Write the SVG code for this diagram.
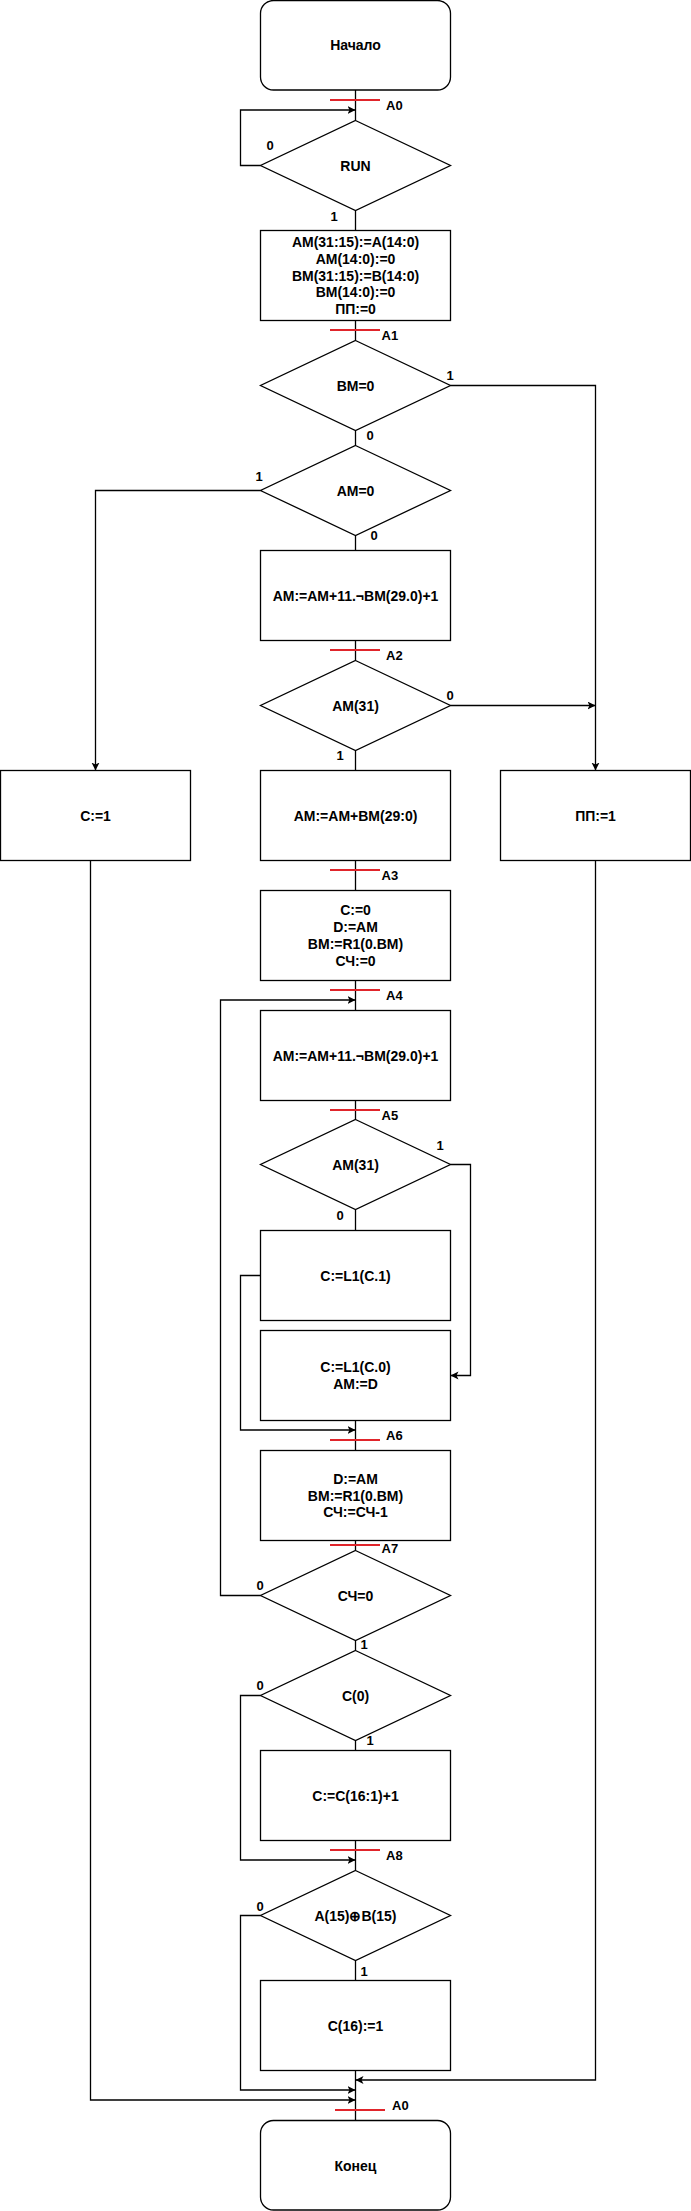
<svg xmlns="http://www.w3.org/2000/svg" width="691" height="2211" viewBox="0 0 691 2211">
<defs>
<style>
.s{fill:#fff;stroke:#000;stroke-width:1.3}
.t{font-family:"Liberation Sans",Arial,sans-serif;font-size:14px;font-weight:bold;fill:#000;text-anchor:middle}
.l{font-family:"Liberation Sans",Arial,sans-serif;font-size:13px;font-weight:bold;fill:#000}
.c{fill:none;stroke:#000;stroke-width:1.3}
.r{stroke:#e0252b;stroke-width:2}
</style>
<marker id="arr" markerWidth="10" markerHeight="10" refX="8" refY="4" orient="auto" markerUnits="userSpaceOnUse"><path d="M0,0 L8,4 L0,8 L2,4 Z" fill="#000"/></marker>
</defs>
<rect width="691" height="2211" fill="#fff"/>
<g id="connectors">
<path class="c" d="M355.5,90 V120.5"/>
<path class="c" d="M260.5,165.5 H240.5 V110 H355.5" marker-end="url(#arr)"/>
<path class="c" d="M355.5,210.5 V230.5"/>
<path class="c" d="M355.5,320.5 V340.5"/>
<path class="c" d="M450.5,385.5 H595.5 V770.5" marker-end="url(#arr)"/>
<path class="c" d="M355.5,430.5 V445.5"/>
<path class="c" d="M260.5,490.5 H95.5 V770.5" marker-end="url(#arr)"/>
<path class="c" d="M355.5,535.5 V550.5"/>
<path class="c" d="M355.5,640.5 V660.5"/>
<path class="c" d="M450.5,705.5 H595.5" marker-end="url(#arr)"/>
<path class="c" d="M355.5,750.5 V770.5"/>
<path class="c" d="M355.5,860.5 V890.5"/>
<path class="c" d="M355.5,980.5 V1010.5"/>
<path class="c" d="M260.5,1595.5 H220.5 V1000 H355.5" marker-end="url(#arr)"/>
<path class="c" d="M355.5,1100.5 V1119.5"/>
<path class="c" d="M355.5,1209.5 V1230.5"/>
<path class="c" d="M450.5,1164.5 H470.5 V1375.5 H450.5" marker-end="url(#arr)"/>
<path class="c" d="M260.5,1275.5 H240.5 V1430 H355.5" marker-end="url(#arr)"/>
<path class="c" d="M355.5,1420.5 V1450.5"/>
<path class="c" d="M355.5,1540.5 V1550.5"/>
<path class="c" d="M355.5,1640.5 V1650.5"/>
<path class="c" d="M355.5,1740.5 V1750.5"/>
<path class="c" d="M260.5,1695.5 H240.5 V1860 H355.5" marker-end="url(#arr)"/>
<path class="c" d="M355.5,1840.5 V1870.5"/>
<path class="c" d="M355.5,1960.5 V1980.5"/>
<path class="c" d="M260.5,1915.5 H240.5 V2090 H355.5" marker-end="url(#arr)"/>
<path class="c" d="M595.5,860.5 V2080 H355.5" marker-end="url(#arr)"/>
<path class="c" d="M90.5,860.5 V2100 H355.5" marker-end="url(#arr)"/>
<path class="c" d="M355.5,2070.5 V2120.5"/>
</g>
<g id="markers">
<line class="r" x1="330" y1="100" x2="380" y2="100"/>
<line class="r" x1="330" y1="330" x2="380" y2="330"/>
<line class="r" x1="330" y1="650" x2="380" y2="650"/>
<line class="r" x1="330" y1="870" x2="380" y2="870"/>
<line class="r" x1="330" y1="990" x2="380" y2="990"/>
<line class="r" x1="330" y1="1110" x2="380" y2="1110"/>
<line class="r" x1="330" y1="1440" x2="380" y2="1440"/>
<line class="r" x1="330" y1="1545" x2="380" y2="1545"/>
<line class="r" x1="330" y1="1850" x2="380" y2="1850"/>
<line class="r" x1="335" y1="2110" x2="385" y2="2110"/>
<text class="l" x="386" y="110">A0</text>
<text class="l" x="381.5" y="340">A1</text>
<text class="l" x="386" y="660">A2</text>
<text class="l" x="381.5" y="880">A3</text>
<text class="l" x="386" y="1000">A4</text>
<text class="l" x="381.5" y="1120">A5</text>
<text class="l" x="386" y="1440">A6</text>
<text class="l" x="381.5" y="1553">A7</text>
<text class="l" x="386" y="1860">A8</text>
<text class="l" x="392" y="2110">A0</text>
</g>
<g id="branch-labels" class="l" text-anchor="middle">
<text x="270" y="150" text-anchor="middle">0</text>
<text x="334" y="221" text-anchor="middle">1</text>
<text x="450" y="380" text-anchor="middle">1</text>
<text x="370" y="440" text-anchor="middle">0</text>
<text x="259" y="481" text-anchor="middle">1</text>
<text x="374" y="540" text-anchor="middle">0</text>
<text x="450" y="700" text-anchor="middle">0</text>
<text x="340" y="760" text-anchor="middle">1</text>
<text x="440" y="1150" text-anchor="middle">1</text>
<text x="340" y="1220" text-anchor="middle">0</text>
<text x="260" y="1590" text-anchor="middle">0</text>
<text x="364" y="1649" text-anchor="middle">1</text>
<text x="260" y="1690" text-anchor="middle">0</text>
<text x="370" y="1745" text-anchor="middle">1</text>
<text x="260" y="1911" text-anchor="middle">0</text>
<text x="364" y="1976" text-anchor="middle">1</text>
</g>
<g id="start"><rect class="s" x="260.5" y="0.5" width="190" height="89.5" rx="13" ry="13"/><text class="t" x="355.5" y="50">Начало</text></g>
<g id="run"><polygon class="s" points="355.5,120.5 450.5,165.5 355.5,210.5 260.5,165.5"/><text class="t" x="355.5" y="170.5">RUN</text></g>
<g id="init"><rect class="s" x="260.5" y="230.5" width="190" height="90"/>
<text class="t" x="355.5" y="247">AM(31:15):=A(14:0)</text>
<text class="t" x="355.5" y="263.7">AM(14:0):=0</text>
<text class="t" x="355.5" y="280.5">BM(31:15):=B(14:0)</text>
<text class="t" x="355.5" y="297.3">BM(14:0):=0</text>
<text class="t" x="355.5" y="314.1">ПП:=0</text></g>
<g id="bm0"><polygon class="s" points="355.5,340.5 450.5,385.5 355.5,430.5 260.5,385.5"/><text class="t" x="355.5" y="390.5">BM=0</text></g>
<g id="am0"><polygon class="s" points="355.5,445.5 450.5,490.5 355.5,535.5 260.5,490.5"/><text class="t" x="355.5" y="495.5">AM=0</text></g>
<g id="sub1"><rect class="s" x="260.5" y="550.5" width="190" height="90"/><text class="t" x="355.5" y="600.5">AM:=AM+11.¬BM(29.0)+1</text></g>
<g id="am31a"><polygon class="s" points="355.5,660.5 450.5,705.5 355.5,750.5 260.5,705.5"/><text class="t" x="355.5" y="710.5">AM(31)</text></g>
<g id="c1"><rect class="s" x="0.5" y="770.5" width="190" height="90"/><text class="t" x="95.5" y="820.5">C:=1</text></g>
<g id="add"><rect class="s" x="260.5" y="770.5" width="190" height="90"/><text class="t" x="355.5" y="820.5">AM:=AM+BM(29:0)</text></g>
<g id="pp1"><rect class="s" x="500.5" y="770.5" width="190" height="90"/><text class="t" x="595.5" y="820.5">ПП:=1</text></g>
<g id="init2"><rect class="s" x="260.5" y="890.5" width="190" height="90"/>
<text class="t" x="355.5" y="915.3">C:=0</text>
<text class="t" x="355.5" y="932.1">D:=AM</text>
<text class="t" x="355.5" y="948.9">BM:=R1(0.BM)</text>
<text class="t" x="355.5" y="965.7">СЧ:=0</text></g>
<g id="sub2"><rect class="s" x="260.5" y="1010.5" width="190" height="90"/><text class="t" x="355.5" y="1060.5">AM:=AM+11.¬BM(29.0)+1</text></g>
<g id="am31b"><polygon class="s" points="355.5,1119.5 450.5,1164.5 355.5,1209.5 260.5,1164.5"/><text class="t" x="355.5" y="1169.5">AM(31)</text></g>
<g id="shl1"><rect class="s" x="260.5" y="1230.5" width="190" height="90"/><text class="t" x="355.5" y="1280.5">C:=L1(C.1)</text></g>
<g id="shl0"><rect class="s" x="260.5" y="1330.5" width="190" height="90"/>
<text class="t" x="355.5" y="1372.1">C:=L1(C.0)</text>
<text class="t" x="355.5" y="1388.9">AM:=D</text></g>
<g id="upd"><rect class="s" x="260.5" y="1450.5" width="190" height="90"/>
<text class="t" x="355.5" y="1483.7">D:=AM</text>
<text class="t" x="355.5" y="1500.5">BM:=R1(0.BM)</text>
<text class="t" x="355.5" y="1517.3">СЧ:=СЧ-1</text></g>
<g id="cnt0"><polygon class="s" points="355.5,1550.5 450.5,1595.5 355.5,1640.5 260.5,1595.5"/><text class="t" x="355.5" y="1600.5">СЧ=0</text></g>
<g id="c0"><polygon class="s" points="355.5,1650.5 450.5,1695.5 355.5,1740.5 260.5,1695.5"/><text class="t" x="355.5" y="1700.5">C(0)</text></g>
<g id="round"><rect class="s" x="260.5" y="1750.5" width="190" height="90"/><text class="t" x="355.5" y="1800.5">C:=C(16:1)+1</text></g>
<g id="xor"><polygon class="s" points="355.5,1870.5 450.5,1915.5 355.5,1960.5 260.5,1915.5"/><text class="t" x="355.5" y="1920.5">A(15)⊕B(15)</text></g>
<g id="sign"><rect class="s" x="260.5" y="1980.5" width="190" height="90"/><text class="t" x="355.5" y="2030.5">C(16):=1</text></g>
<g id="end"><rect class="s" x="260.5" y="2120.5" width="190" height="89.5" rx="13" ry="13"/><text class="t" x="355.5" y="2170.5">Конец</text></g>
</svg>
